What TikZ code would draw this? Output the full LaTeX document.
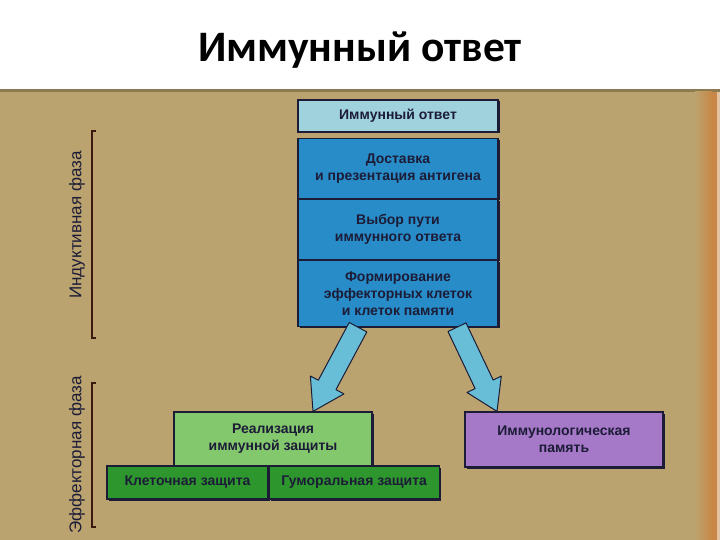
\documentclass[tikz,border=0pt]{standalone}
\usepackage{fontspec}
\setmainfont{Liberation Sans}
\newfontfamily\titlefont{Carlito}
\usetikzlibrary{positioning,calc,shadows}

\definecolor{panel}{RGB}{187,163,111}
\definecolor{panelrim}{RGB}{200,135,70}
\definecolor{paleblue}{RGB}{160,210,222}
\definecolor{deepblue}{RGB}{40,140,200}
\definecolor{arrowblue}{RGB}{105,190,215}
\definecolor{palegreen}{RGB}{132,200,110}
\definecolor{deepgreen}{RGB}{45,150,45}
\definecolor{lilac}{RGB}{165,120,200}
\definecolor{ink}{RGB}{28,28,55}
\definecolor{bracketbrown}{RGB}{60,25,15}

\tikzset{
  box/.style={draw=ink, line width=1.2pt, inner sep=0pt, align=center, text=ink,
    font=\bfseries\fontsize{14}{17}\selectfont,
    drop shadow={shadow xshift=1.5pt, shadow yshift=-1.5pt, opacity=1, fill=ink}},
  phase/.style={rotate=90, text=ink, font=\fontsize{17}{20}\selectfont},
  fatarrow/.style={fill=arrowblue, draw=ink, line width=1pt, line join=round}
}

\begin{document}
\begin{tikzpicture}[x=1pt, y=-1pt]
\useasboundingbox (0,0) rectangle (720,540);

% background panel
\fill[panel] (0,89) rectangle (720,540);
\fill[black!25!panel] (0,89) rectangle (720,92);
\shade[left color=panel, right color=panelrim] (695,92) rectangle (712,540);
\fill[panelrim] (712,92) rectangle (717,540);
\fill[panelrim!50!white] (717,92) rectangle (720,540);

\node[anchor=base, font=\titlefont\bfseries\fontsize{43.5}{50}\selectfont] (title) at (360,62) {Иммунный ответ};

% induction phase
\node[box, fill=paleblue, minimum width=200pt, minimum height=32pt] (otvet) at (398,116) {Иммунный ответ};
\node[box, fill=deepblue, minimum width=200pt, minimum height=60pt, below=5pt of otvet] (dostavka) {Доставка\\и презентация антигена};
\node[box, fill=deepblue, minimum width=200pt, minimum height=60pt, below=0pt of dostavka] (vybor) {Выбор пути\\иммунного ответа};
\node[box, fill=deepblue, minimum width=200pt, minimum height=66pt, below=0pt of vybor] (formir) {Формирование\\эффекторных клеток\\и клеток памяти};

% effector phase
\node[box, fill=palegreen, minimum width=198pt, minimum height=54pt] (realiz) at (273,439) {Реализация\\иммунной защиты};
\node[box, fill=deepgreen, minimum width=161pt, minimum height=33pt] (kletoch) at (187.5,482.5) {Клеточная защита};
\node[box, fill=deepgreen, minimum width=170pt, minimum height=33pt, right=0pt of kletoch] (gumor) {Гуморальная защита};
\node[box, fill=lilac, minimum width=198pt, minimum height=55pt] (pamyat) at (564,439.5) {Иммунологическая\\память};

% arrows
\coordinate (lt) at ($(formir.south)+(-40,0)$);
\coordinate (lh) at ($(realiz.north)+(40,0)$);
\coordinate (lb) at ($(lh)!30pt!(lt)$);
\draw[fatarrow] ($(lt)!10pt!90:(lh)$) -- ($(lb)!10pt!90:(lh)$) -- ($(lb)!19pt!90:(lh)$) -- (lh)
  -- ($(lb)!19pt!-90:(lh)$) -- ($(lb)!10pt!-90:(lh)$) -- ($(lt)!10pt!-90:(lh)$) -- cycle;

\coordinate (rt) at ($(formir.south)+(59,0)$);
\coordinate (rh) at ($(pamyat.north)+(-67,0)$);
\coordinate (rb) at ($(rh)!30pt!(rt)$);
\draw[fatarrow] ($(rt)!10pt!90:(rh)$) -- ($(rb)!10pt!90:(rh)$) -- ($(rb)!19pt!90:(rh)$) -- (rh)
  -- ($(rb)!19pt!-90:(rh)$) -- ($(rb)!10pt!-90:(rh)$) -- ($(rt)!10pt!-90:(rh)$) -- cycle;

% phase brackets
\draw[bracketbrown, line width=1.3pt] (96,131) -- (92,131) -- (92,338) -- (96,338);
\draw[bracketbrown, line width=1.3pt] (96,383) -- (92,383) -- (92,527) -- (96,527);
\node[phase] (induct) at (77,225) {Индуктивная фаза};
\node[phase] (effect) at (77,455) {Эффекторная фаза};
\end{tikzpicture}
\end{document}
